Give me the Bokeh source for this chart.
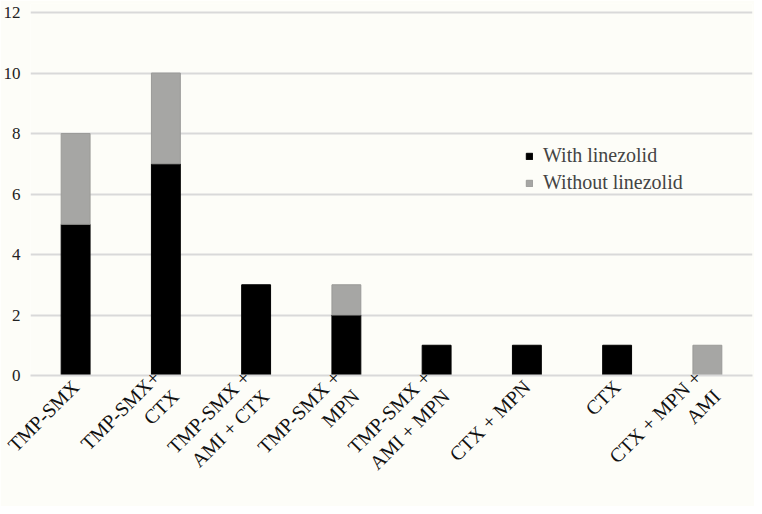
from bokeh.plotting import figure
from bokeh.models import Legend, LegendItem, FixedTicker
from bokeh.embed import file_html
from bokeh.resources import INLINE
import math

categories = ["TMP-SMX", "TMP-SMX+\nCTX", "TMP-SMX +\nAMI + CTX", "TMP-SMX +\nMPN",
              "TMP-SMX +\nAMI + MPN", "CTX + MPN", "CTX", "CTX + MPN +\nAMI"]
with_linezolid = [5, 7, 3, 2, 1, 1, 1, 0]
without_linezolid = [3, 3, 0, 1, 0, 0, 0, 1]
y_ticks = [0, 2, 4, 6, 8, 10, 12]

FONT = "Liberation Serif"
BG = "#fdfdf8"

data = dict(cat=categories, w=with_linezolid, wo=without_linezolid,
            wo_alpha=[1 if v > 0 else 0 for v in without_linezolid])

p = figure(x_range=categories, y_range=(0, 12.3), width=754, height=506,
           output_backend="svg", toolbar_location=None,
           background_fill_color=BG, border_fill_color=BG,
           min_border_left=20, min_border_right=2, min_border_top=3)
p.outline_line_color = None

r = p.vbar_stack(["w", "wo"], x="cat", width=0.32, source=data,
                 color=["#000000", "#a6a6a4"], line_color=["#000000", "#9a9a98"],
                 line_alpha=[1, "wo_alpha"])

p.yaxis.ticker = FixedTicker(ticks=y_ticks)
p.yaxis.axis_line_color = None
p.yaxis.major_tick_line_color = None
p.yaxis.minor_tick_line_color = None
p.yaxis.major_label_text_font = FONT
p.yaxis.major_label_text_font_size = "17px"
p.yaxis.major_label_text_color = "#222222"
p.yaxis.major_label_standoff = 4

p.xaxis.major_label_orientation = math.pi / 4
p.xaxis.axis_line_color = "#d9d9d9"
p.xaxis.axis_line_width = 2
p.xaxis.major_tick_line_color = None
p.xaxis.minor_tick_line_color = None
p.xaxis.major_label_text_font = FONT
p.xaxis.major_label_text_font_size = "20px"
p.xaxis.major_label_text_color = "#111111"
p.xaxis.major_label_standoff = 2

p.xgrid.grid_line_color = None
p.ygrid.grid_line_color = "#d9d9d9"
p.ygrid.grid_line_width = 2

legend = Legend(items=[LegendItem(label="With linezolid", renderers=[r[0]]),
                       LegendItem(label="Without linezolid", renderers=[r[1]])],
                location=(495, 181), background_fill_alpha=0, border_line_color=None,
                label_text_font=FONT, label_text_font_size="20px",
                glyph_width=8, glyph_height=8, label_standoff=10, spacing=4)
p.add_layout(legend)

open("out.html", "w").write(file_html(p, INLINE))
